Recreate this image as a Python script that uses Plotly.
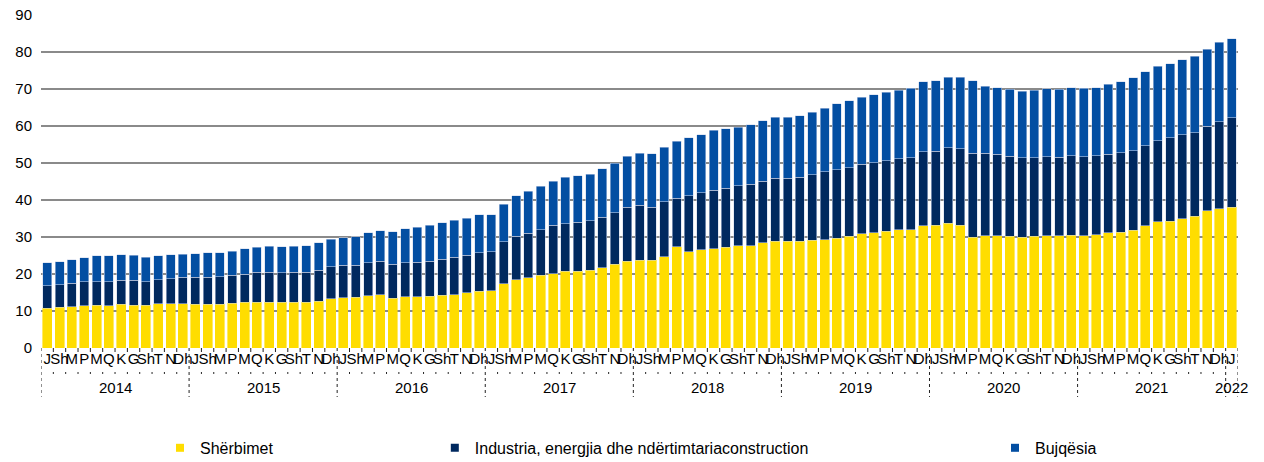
import plotly.graph_objects as go

months = ["J", "Sh", "M", "P", "M", "Q", "K", "G", "Sh", "T", "N", "Dh"]
years = ["2014", "2015", "2016", "2017", "2018", "2019", "2020", "2021", "2022"]

sherbimet = [10.8, 11.0, 11.2, 11.4, 11.6, 11.4, 11.8, 11.6, 11.5, 11.9, 11.9, 11.9,
             11.8, 11.8, 11.8, 12.1, 12.3, 12.3, 12.4, 12.3, 12.3, 12.3, 12.7, 13.3,
             13.6, 13.7, 14.1, 14.4, 13.5, 13.9, 13.9, 14.0, 14.2, 14.4, 14.9, 15.3,
             15.5, 17.3, 18.4, 19.0, 19.6, 20.1, 20.7, 20.7, 21.0, 21.7, 22.7, 23.5,
             23.7, 23.7, 24.6, 27.4, 26.0, 26.5, 26.8, 27.2, 27.6, 27.7, 28.4, 28.8,
             28.8, 28.9, 29.1, 29.3, 29.7, 30.2, 30.9, 31.1, 31.5, 31.9, 32.0, 33.0,
             33.2, 33.7, 33.2, 30.0, 30.3, 30.3, 30.2, 30.0, 30.2, 30.4, 30.4, 30.5,
             30.4, 30.6, 31.1, 31.3, 31.8, 33.0, 34.1, 34.3, 35.0, 35.6, 37.1, 37.7,
             38.1]
industria = [6.0, 6.1, 6.3, 6.5, 6.3, 6.5, 6.5, 6.7, 6.4, 6.6, 6.8, 7.2,
             7.3, 7.3, 7.5, 7.5, 7.7, 8.2, 8.1, 8.0, 8.2, 8.2, 8.3, 8.6,
             8.7, 8.6, 9.0, 9.0, 9.1, 9.2, 9.3, 9.4, 9.8, 10.1, 10.2, 10.5,
             10.5, 11.4, 11.8, 12.0, 12.4, 13.1, 12.9, 13.3, 13.4, 13.6, 13.9, 14.5,
             14.9, 14.4, 14.9, 13.1, 15.1, 15.5, 15.9, 16.0, 16.2, 16.6, 16.7, 17.1,
             17.1, 17.3, 17.7, 18.3, 18.5, 18.5, 18.8, 19.0, 19.1, 19.3, 19.4, 20.0,
             20.0, 20.4, 20.6, 22.7, 22.4, 22.1, 21.6, 21.4, 21.2, 21.3, 21.2, 21.5,
             21.3, 21.4, 21.2, 21.5, 21.5, 21.7, 21.9, 22.5, 22.7, 22.6, 22.9, 23.4,
             24.1]
bujqesia = [6.3, 6.2, 6.3, 6.5, 7.0, 7.0, 6.9, 6.8, 6.6, 6.5, 6.5, 6.3,
            6.4, 6.6, 6.5, 6.5, 6.8, 6.7, 7.0, 7.0, 7.0, 7.2, 7.4, 7.5,
            7.5, 7.8, 8.0, 8.3, 8.8, 9.1, 9.4, 9.8, 9.9, 10.0, 10.0, 10.2,
            10.0, 10.2, 10.9, 11.4, 11.7, 11.9, 12.5, 12.6, 12.6, 13.1, 13.4, 13.8,
            14.0, 14.4, 14.8, 15.4, 15.7, 15.7, 16.1, 16.1, 15.9, 16.1, 16.3, 16.4,
            16.4, 16.6, 16.9, 17.2, 17.8, 18.1, 18.1, 18.4, 18.5, 18.5, 18.8, 18.9,
            19.0, 19.1, 19.4, 19.5, 18.1, 18.0, 18.1, 18.0, 18.3, 18.4, 18.3, 18.4,
            18.5, 18.4, 19.0, 19.2, 19.7, 19.9, 20.1, 20.0, 20.2, 20.7, 20.8, 21.5,
            21.4]

series_names = ["Shërbimet", "Industria, energjia dhe ndërtimtariaconstruction", "Bujqësia"]
colors = ["#FFDD00", "#00295F", "#034EA2"]

n = len(sherbimet)
x = list(range(n))
labels = [months[i % 12] for i in range(n)]

FONT = "Liberation Sans, Arial, sans-serif"
fig = go.Figure()
for vals, name, col in zip([sherbimet, industria, bujqesia], series_names, colors):
    fig.add_trace(go.Bar(
        x=x, y=vals, name=name, marker_color=col, showlegend=False,
        marker_line_color="rgba(205,215,235,0.9)" if col != "#FFDD00" else col,
        marker_line_width=0.6,
    ))

# legend proxies (small squares), each in its own legend for placement
legend_ids = ["legend", "legend2", "legend3"]
legend_x = [0.0994, 0.329, 0.797]
for name, col, lid in zip(series_names, colors, legend_ids):
    fig.add_trace(go.Scatter(
        x=[None], y=[None], mode="markers", name=name, legend=lid,
        marker=dict(symbol="square", size=8, color=col), showlegend=True,
    ))

shapes = []
# year separators
for k in range(len(years)):
    xv = 12 * k - 0.5
    shapes.append(dict(type="line", xref="x", yref="paper", x0=xv, x1=xv,
                       y0=0, y1=-0.147, line=dict(color="#222222", width=1, dash="3px,3px")))
shapes.append(dict(type="line", xref="x", yref="paper", x0=n - 0.5, x1=n - 0.5,
                   y0=0, y1=-0.147, line=dict(color="#222222", width=1, dash="3px,3px")))
# month dividers
for i in range(1, n):
    if i % 12 == 0:
        continue
    xv = i - 0.5
    shapes.append(dict(type="line", xref="x", yref="paper", x0=xv, x1=xv,
                       y0=0, y1=-0.078, line=dict(color="#222222", width=1, dash="4px,20px,2px")))

annotations = []
for k, yr in enumerate(years):
    cx = 12 * k + 5.5 if k < len(years) - 1 else 12 * k
    annotations.append(dict(x=cx, y=-0.12, xref="x", yref="paper", text=yr,
                            showarrow=False, yanchor="middle", xanchor="center",
                            font=dict(family=FONT, size=15, color="#000")))

legend_common = dict(orientation="h", yanchor="middle", y=-0.30, xanchor="left",
                     font=dict(family=FONT, size=16, color="#000"),
                     bgcolor="rgba(0,0,0,0)", itemwidth=30)
layout_legends = {}
for lid, lx in zip(legend_ids, legend_x):
    layout_legends[lid] = dict(legend_common, x=lx)

fig.update_layout(
    width=1264, height=462,
    margin=dict(l=41, r=26, t=15, b=114, autoexpand=False),
    barmode="stack", bargap=0.27,
    plot_bgcolor="white", paper_bgcolor="white",
    font=dict(family=FONT, size=15, color="#000"),
    shapes=shapes, annotations=annotations,
    **layout_legends,
)
fig.update_xaxes(range=[-0.5, n - 0.5], tickmode="array", tickvals=x, ticktext=labels,
                 tickangle=0, showgrid=False, zeroline=False, showline=False, ticks="",
                 automargin=False,
                 tickfont=dict(family=FONT, size=15, color="#000"))
fig.update_yaxes(range=[0, 90], dtick=10, showgrid=True, gridcolor="#8a8a8a", gridwidth=1.6,
                 zeroline=False, showline=False, ticks="", ticklabelstandoff=8,
                 automargin=False,
                 tickfont=dict(family=FONT, size=15, color="#000"))

fig.write_html(
    "out.html",
    config={"displayModeBar": False},
    post_script="document.body.style.margin='0';document.body.style.overflow='hidden';",
)
